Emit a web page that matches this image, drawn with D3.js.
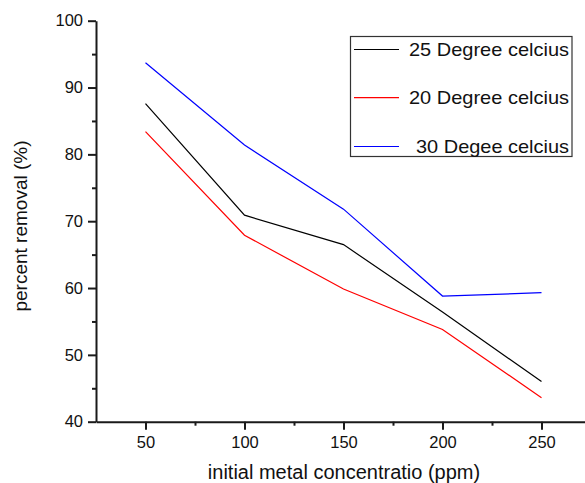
<!DOCTYPE html>
<html>
<head>
<meta charset="utf-8">
<script src="https://cdn.jsdelivr.net/npm/d3@7"></script>
<style>
  html, body { margin: 0; padding: 0; background: #fff; }
  svg { display: block; font-family: Arial, "Liberation Sans", sans-serif; }
</style>
</head>
<body>
<svg id="chart" width="585" height="483"></svg>
<script>
// Initial metal concentration (ppm)
const concentrations = [50, 100, 150, 200, 250];

// Percent removal at each temperature
const removal25 = [87.6, 70.9, 66.5, 56.4, 46.0];
const removal20 = [83.4, 67.9, 59.85, 53.8, 43.6];
const removal30 = [93.7, 81.4, 71.8, 58.8, 59.3];

const seriesNames = ["25 Degree celcius", "20 Degree celcius", " 30 Degee celcius"];
const seriesColors = ["#000000", "#ff0000", "#0000ff"];

const xMajorTicks = [50, 100, 150, 200, 250];
const xMinorTicks = [75, 125, 175, 225, 275];
const yMajorTicks = [40, 50, 60, 70, 80, 90, 100];
const yMinorTicks = [45, 55, 65, 75, 85, 95];

const xTitle = "initial metal concentratio (ppm)";
const yTitle = "percent removal (%)";

const svg = d3.select("#chart");

const x = d3.scaleLinear().domain([25, 275]).range([96, 591]);
const y = d3.scaleLinear().domain([40, 100]).range([421.7, 20.7]);

const axisColor = "#1a1a1a";

// Minor ticks
svg.append("g")
  .attr("transform", `translate(0,${y(40)})`)
  .call(d3.axisBottom(x).tickValues(xMinorTicks).tickSize(4).tickFormat(""))
  .call(g => g.select(".domain").remove())
  .call(g => g.selectAll("line").attr("stroke", axisColor).attr("stroke-width", 2));

svg.append("g")
  .attr("transform", `translate(${x(25)},0)`)
  .call(d3.axisLeft(y).tickValues(yMinorTicks).tickSize(4).tickFormat(""))
  .call(g => g.select(".domain").remove())
  .call(g => g.selectAll("line").attr("stroke", axisColor).attr("stroke-width", 2));

// Major axes
const xAxis = svg.append("g")
  .attr("transform", `translate(0,${y(40)})`)
  .call(d3.axisBottom(x).tickValues(xMajorTicks).tickSize(8).tickPadding(7).tickSizeOuter(0));

const yAxis = svg.append("g")
  .attr("transform", `translate(${x(25)},0)`)
  .call(d3.axisLeft(y).tickValues(yMajorTicks).tickSize(8).tickPadding(5).tickSizeOuter(0));

[xAxis, yAxis].forEach(g => {
  g.select(".domain").attr("stroke", axisColor).attr("stroke-width", 2);
  g.selectAll(".tick line").attr("stroke", axisColor).attr("stroke-width", 2);
  g.selectAll(".tick text")
    .attr("fill", "#111")
    .style("font-size", "16.5px")
    .style("font-family", "Arial, 'Liberation Sans', sans-serif");
});

// Axis titles
svg.append("text")
  .attr("x", 344)
  .attr("y", 479)
  .attr("text-anchor", "middle")
  .attr("fill", "#111")
  .style("font-size", "20px")
  .text(xTitle);

svg.append("text")
  .attr("transform", `translate(27,226) rotate(-90)`)
  .attr("text-anchor", "middle")
  .attr("fill", "#111")
  .style("font-size", "19px")
  .text(yTitle);

// Data lines
const series = [removal25, removal20, removal30];
const line = d3.line()
  .x((d, i) => x(concentrations[i]))
  .y(d => y(d));

svg.append("g")
  .selectAll("path")
  .data(series)
  .join("path")
  .attr("d", d => line(d))
  .attr("fill", "none")
  .attr("stroke", (d, i) => seriesColors[i])
  .attr("stroke-width", 1.2);

// Legend
const legend = svg.append("g");
legend.append("rect")
  .attr("x", 350.5).attr("y", 36.5)
  .attr("width", 221.5).attr("height", 120)
  .attr("fill", "#fff")
  .attr("stroke", "#333")
  .attr("stroke-width", 1.2);

const rowY = [49.5, 97.7, 146.5];
seriesNames.forEach((name, i) => {
  legend.append("line")
    .attr("x1", 354).attr("x2", 399)
    .attr("y1", rowY[i]).attr("y2", rowY[i])
    .attr("stroke", seriesColors[i])
    .attr("stroke-width", 1.2);
  const label = name.trim();
  const startX = name.startsWith(" ") ? 416 : 409;
  legend.append("text")
    .attr("x", startX)
    .attr("y", rowY[i] + 6.7)
    .attr("fill", "#111")
    .attr("textLength", 569 - startX)
    .attr("lengthAdjust", "spacingAndGlyphs")
    .style("font-size", "18.5px")
    .text(label);
});
</script>
</body>
</html>
